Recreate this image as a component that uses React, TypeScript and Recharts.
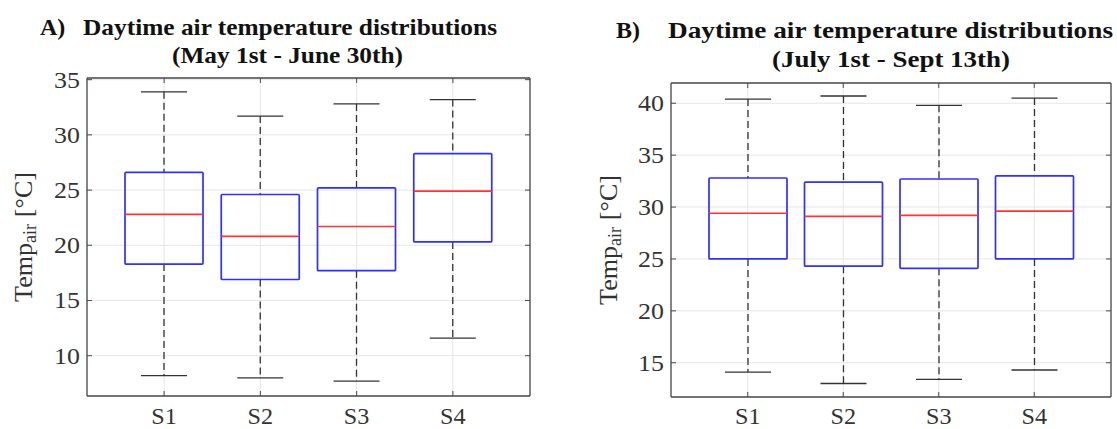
import React from 'react';
import { ComposedChart, Bar, XAxis, YAxis, CartesianGrid } from 'recharts';

const SERIF = "'Liberation Serif', Tinos, 'Times New Roman', serif";

const categories = ['S1', 'S2', 'S3', 'S4'];

// Panel A (May 1st - June 30th)
const minA = [8.2, 8.0, 7.7, 11.6];
const q1A = [18.3, 16.9, 17.7, 20.3];
const medA = [22.8, 20.8, 21.7, 24.9];
const q3A = [26.6, 24.6, 25.2, 28.3];
const maxA = [33.9, 31.7, 32.8, 33.2];
const ticksA = [10, 15, 20, 25, 30, 35];
const domainA: [number, number] = [6.35, 35.15];

// Panel B (July 1st - Sept 13th)
const minB = [14.1, 13.0, 13.4, 14.3];
const q1B = [25.0, 24.3, 24.1, 25.0];
const medB = [29.4, 29.1, 29.2, 29.6];
const q3B = [32.8, 32.4, 32.7, 33.0];
const maxB = [40.4, 40.7, 39.8, 40.5];
const ticksB = [15, 20, 25, 30, 35, 40];
const domainB: [number, number] = [11.7, 41.95];

const build = (mins: number[], q1: number[], med: number[], q3: number[], maxs: number[]) =>
  categories.map((name, i) => ({
    name,
    box: [q1[i], q3[i]],
    q1: q1[i],
    q3: q3[i],
    min: mins[i],
    med: med[i],
    max: maxs[i],
  }));

const dataA = build(minA, q1A, medA, q3A, maxA);
const dataB = build(minB, q1B, medB, q3B, maxB);

const AXIS = '#4a4a4a';
const GRID = '#e6e6e6';
const TXT = '#333333';

const BoxShape = (props: any) => {
  const { x, y, width, height, payload } = props;
  if (!payload) return null;
  const top = Math.min(y, y + height);
  const bot = Math.max(y, y + height);
  const ppu = (bot - top) / (payload.q3 - payload.q1);
  const yOf = (v: number) => bot - (v - payload.q1) * ppu;
  const cx = x + width / 2;
  const cap = 23;
  return (
    <g>
      <line x1={cx} x2={cx} y1={yOf(payload.max)} y2={top} stroke="#333" strokeWidth={1.3} strokeDasharray="7 4" />
      <line x1={cx} x2={cx} y1={bot} y2={yOf(payload.min)} stroke="#333" strokeWidth={1.3} strokeDasharray="7 4" />
      <line x1={cx - cap} x2={cx + cap} y1={yOf(payload.max)} y2={yOf(payload.max)} stroke="#333" strokeWidth={1.3} />
      <line x1={cx - cap} x2={cx + cap} y1={yOf(payload.min)} y2={yOf(payload.min)} stroke="#333" strokeWidth={1.3} />
      <rect x={x} y={top} width={width} height={bot - top} fill="none" stroke="#2f2fff" strokeWidth={1.7} rx={1} />
      <line x1={x} x2={x + width} y1={yOf(payload.med)} y2={yOf(payload.med)} stroke="#ff3333" strokeWidth={1.7} />
    </g>
  );
};

const LeftTick = (props: any) => {
  const { x, y, payload } = props;
  const ax = x + 7;
  return (
    <g>
      <line x1={ax} x2={ax + 5} y1={y} y2={y} stroke={AXIS} strokeWidth={1} />
      <text
        x={0}
        y={8}
        transform={`translate(${x} ${y}) scale(1.08 1)`}
        textAnchor="end"
        style={{ fontFamily: SERIF, fontSize: 24 }}
        fill={TXT}
      >
        {payload.value}
      </text>
    </g>
  );
};

const RightTick = (props: any) => {
  const { x, y } = props;
  return <line x1={x} x2={x - 5} y1={y} y2={y} stroke={AXIS} strokeWidth={1} />;
};

const BottomTick = (props: any) => {
  const { x, y, payload, base } = props;
  return (
    <g>
      <line x1={x} x2={x} y1={y} y2={y - 5} stroke={AXIS} strokeWidth={1} />
      <text
        x={0}
        y={0}
        transform={`translate(${x} ${y + base}) scale(1.05 1)`}
        textAnchor="middle"
        style={{ fontFamily: SERIF, fontSize: 23 }}
        fill={TXT}
      >
        {payload.value}
      </text>
    </g>
  );
};

const TopTick = (props: any) => {
  const { x, y } = props;
  return <line x1={x} x2={x} y1={y} y2={y + 5} stroke={AXIS} strokeWidth={1} />;
};

const YLabel = ({ viewBox, cx }: any) => {
  const cy = viewBox.y + viewBox.height / 2;
  const px = viewBox.x + cx;
  return (
    <text
      x={px}
      y={cy}
      transform={`rotate(-90 ${px} ${cy})`}
      textAnchor="middle"
      dominantBaseline="middle"
      style={{ fontFamily: SERIF, fontSize: 26 }}
      fill={TXT}
    >
      Temp
      <tspan style={{ fontSize: 18 }} dy={6}>air</tspan>
      <tspan dy={-6} dx={7}>[°C]</tspan>
    </text>
  );
};

type PanelProps = {
  data: any[];
  domain: [number, number];
  ticks: number[];
  left: number;
  width: number;
  yWidth: number;
  top: number;
  bottomH: number;
  labelX: number;
  base: number;
};

const Panel = ({ data, domain, ticks, left, width, yWidth, top, bottomH, labelX, base }: PanelProps) => (
  <div style={{ position: 'absolute', left, top: 0 }}>
    <ComposedChart
      width={width}
      height={429}
      data={data}
      margin={{ top: top - 1, right: 0, bottom: 0, left: 0 }}
    >
      <CartesianGrid xAxisId="b" yAxisId="l" stroke={GRID} strokeWidth={1} />
      <XAxis
        xAxisId="b"
        dataKey="name"
        orientation="bottom"
        height={bottomH}
        padding={{ left: 29, right: 29 }}
        tickSize={0}
        tickMargin={0}
        tick={<BottomTick base={base} />}
        axisLine={{ stroke: AXIS, strokeWidth: 1.3 }}
        interval={0}
      />
      <XAxis
        xAxisId="t"
        dataKey="name"
        orientation="top"
        height={1}
        padding={{ left: 29, right: 29 }}
        tickSize={0}
        tickMargin={0}
        tick={<TopTick />}
        axisLine={{ stroke: AXIS, strokeWidth: 1.3 }}
        interval={0}
      />
      <YAxis
        yAxisId="l"
        orientation="left"
        width={yWidth}
        domain={domain}
        ticks={ticks}
        allowDataOverflow
        type="number"
        tickSize={0}
        tickMargin={7}
        tick={<LeftTick />}
        axisLine={{ stroke: AXIS, strokeWidth: 1.3 }}
        label={<YLabel cx={labelX} />}
      />
      <YAxis
        yAxisId="r"
        orientation="right"
        width={2}
        domain={domain}
        ticks={ticks}
        allowDataOverflow
        type="number"
        tickSize={0}
        tickMargin={0}
        tick={<RightTick />}
        axisLine={{ stroke: AXIS, strokeWidth: 1.3 }}
      />
      <Bar
        xAxisId="b"
        yAxisId="l"
        dataKey="box"
        barSize={78}
        shape={<BoxShape />}
        isAnimationActive={false}
      />
    </ComposedChart>
  </div>
);

const Titles = () => (
  <svg
    width={1117}
    height={80}
    style={{ position: 'absolute', left: 0, top: 0, pointerEvents: 'none' }}
  >
    <g style={{ fontFamily: SERIF, fontWeight: 'bold', fontSize: 24 }} fill="#111">
      <text x={40} y={35}>A)</text>
      <text x={83} y={35} textLength={414} lengthAdjust="spacingAndGlyphs">
        Daytime air temperature distributions
      </text>
      <text x={172} y={63} textLength={231} lengthAdjust="spacingAndGlyphs">
        (May 1st - June 30th)
      </text>
      <text x={616} y={38}>B)</text>
      <text x={668} y={38} textLength={445} lengthAdjust="spacingAndGlyphs">
        Daytime air temperature distributions
      </text>
      <text x={772} y={67} textLength={238} lengthAdjust="spacingAndGlyphs">
        (July 1st - Sept 13th)
      </text>
    </g>
  </svg>
);

export default function App() {
  return (
    <div
      style={{
        position: 'absolute',
        left: 0,
        top: 0,
        width: 1117,
        height: 429,
        background: '#fff',
        overflow: 'hidden',
      }}
    >
      <Panel
        data={dataA}
        domain={domainA}
        ticks={ticksA}
        left={0}
        width={532}
        yWidth={87}
        top={78}
        bottomH={33}
        labelX={26}
        base={28}
      />
      <Panel
        data={dataB}
        domain={domainB}
        ticks={ticksB}
        left={580}
        width={533}
        yWidth={91}
        top={83}
        bottomH={32}
        labelX={31}
        base={27}
      />
      <Titles />
    </div>
  );
}
